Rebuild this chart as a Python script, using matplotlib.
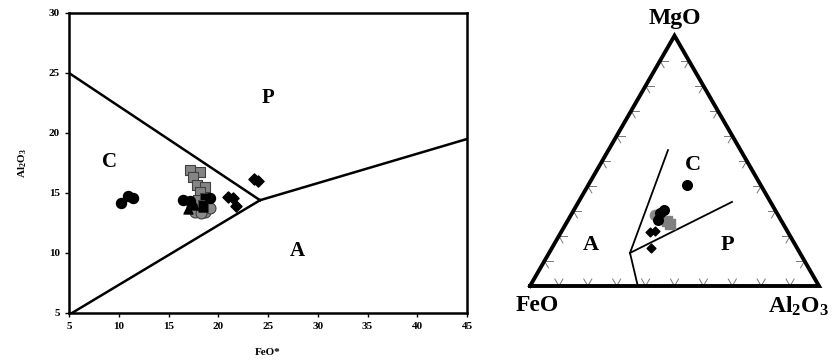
import numpy as np
import matplotlib
matplotlib.use("Agg")
import matplotlib.pyplot as plt

plt.rcParams['font.family'] = ['Liberation Serif', 'DejaVu Serif']
plt.rcParams['font.weight'] = 'bold'
plt.rcParams['mathtext.fontset'] = 'custom'
plt.rcParams['mathtext.rm'] = 'Liberation Serif'
plt.rcParams['mathtext.bf'] = 'Liberation Serif:bold'

# ---- left diagram: FeO* vs Al2O3 ----
bc_x = [10.2, 10.9, 11.4, 16.5, 17.2, 19.2]
bc_y = [14.2, 14.75, 14.6, 14.4, 14.3, 14.6]
gs_x = [17.2, 18.2, 17.5, 17.9, 18.7, 18.2, 18.0]
gs_y = [16.9, 16.75, 16.3, 15.7, 15.5, 15.1, 14.4]
bs_x = [18.7, 18.5]
bs_y = [14.6, 14.0]
gc_x = [17.4, 18.0, 18.7, 19.2, 17.7, 18.3]
gc_y = [13.8, 13.6, 13.4, 13.75, 13.4, 13.3]
bt_x = [17.6, 18.5, 17.0]
bt_y = [14.0, 13.8, 13.7]
dm_x = [21.0, 21.5, 21.8, 23.6, 24.0]
dm_y = [14.7, 14.6, 13.9, 16.2, 16.0]

# field boundaries (FeO*, Al2O3)
bnd_cp = ([5, 24.2], [25, 14.4])
bnd_ca = ([5.3, 24.2], [5, 14.4])
bnd_pa = ([24.2, 45], [14.4, 19.5])
fields_left = {'P': (25, 22.9), 'C': (9.1, 17.6), 'A': (28, 10.2)}

# ---- right diagram: FeO - MgO - Al2O3 ternary (wt fractions) ----
t_bc_fe = [25.5, 40.4, 38.5, 42.5]
t_bc_mg = [40.4, 29.2, 30.4, 26.4]
t_bc_al = [34.1, 30.4, 31.1, 31.1]
t_gc_fe = [42.6]
t_gc_mg = [28.4]
t_gc_al = [29.0]
t_gs_fe = [39.2, 39.5]
t_gs_mg = [24.8, 26.0]
t_gs_al = [36.0, 34.5]
t_dm_fe = [47.7, 45.8, 50.5]
t_dm_mg = [21.6, 22.0, 15.2]
t_dm_al = [30.7, 32.2, 34.3]

t_lines = [  # (FeO, MgO, Al2O3) end points
    ((62.7, 0.0, 37.3), (58.8, 13.2, 28.0)),
    ((58.8, 13.2, 28.0), (25.1, 54.3, 20.6)),
    ((58.8, 13.2, 28.0), (13.3, 33.6, 53.1)),
]
fields_right = {'C': (19.5, 48.3, 32.2), 'A': (70.7, 16.4, 12.9), 'P': (23.6, 16.4, 60.0)}


def tern_xy(fe, mg, al):
    fe, mg, al = np.asarray(fe, float), np.asarray(mg, float), np.asarray(al, float)
    s = fe + mg + al
    return (al + mg / 2) / s, (mg * np.sqrt(3) / 2) / s


fig = plt.figure(figsize=(8.37, 3.63), dpi=100)

ax = fig.add_axes([69 / 837, 50 / 363, 398 / 837, 300 / 363])
for xs, ys in (bnd_cp, bnd_ca, bnd_pa):
    ax.plot(xs, ys, color='black', lw=1.8, zorder=2)
ax.scatter(gs_x, gs_y, marker='s', s=62, c='#858585', edgecolors='#404040', linewidths=0.8, zorder=3)
ax.scatter(bs_x, bs_y, marker='s', s=58, c='black', edgecolors='#404040', linewidths=0.8, zorder=4)
ax.scatter(gc_x, gc_y, marker='o', s=62, c='#8a8a8a', edgecolors='#404040', linewidths=0.8, zorder=3)
ax.scatter(bt_x, bt_y, marker='^', s=42, c='black', zorder=4)
ax.scatter(bc_x, bc_y, marker='o', s=52, c='black', zorder=4)
ax.scatter(dm_x, dm_y, marker='D', s=32, c='black', zorder=4)
for lab, (x, y) in fields_left.items():
    ax.text(x, y, lab, fontsize=15, fontweight='bold', ha='center', va='center')
ax.set_xlim(5, 45)
ax.set_ylim(5, 30)
ax.set_xticks(range(5, 50, 5))
ax.set_yticks(range(5, 35, 5))
ax.tick_params(labelsize=8, length=3, width=1, direction='out')
for sp in ax.spines.values():
    sp.set_linewidth(1.8)
ax.set_xlabel('FeO*', fontsize=8, fontweight='bold', labelpad=12)
ax.set_ylabel(r'$\mathbf{Al_2O_3}$', fontsize=8, labelpad=14)

# ternary
tx = fig.add_axes([500 / 837, 0, 337 / 837, 1])
tx.set_xlim(-30 / 289, 307 / 289)
tx.set_ylim(-77 / 289, 286 / 289)
tx.axis('off')
cx, cy = tern_xy([100, 0, 0, 100], [0, 0, 100, 0], [0, 100, 0, 0])
tx.plot(cx, cy, color='black', lw=2.8, solid_joinstyle='miter', zorder=3)

# tick marks every 10 %
tl = 0.028
a60 = np.radians(60)
for i in range(1, 10):
    f = i / 10
    bx, by = tern_xy(1 - f, 0, f)
    lx, ly = tern_xy(1 - f, f, 0)
    rx, ry = tern_xy(0, f, 1 - f)
    segs = [
        (bx, by, np.cos(a60), np.sin(a60)), (bx, by, -np.cos(a60), np.sin(a60)),
        (lx, ly, 1, 0), (lx, ly, np.cos(a60), -np.sin(a60)),
        (rx, ry, -1, 0), (rx, ry, -np.cos(a60), -np.sin(a60)),
    ]
    for x0, y0, dx, dy in segs:
        tx.plot([x0, x0 + tl * dx], [y0, y0 + tl * dy], color='#777777', lw=0.7, zorder=2)

for p0, p1 in t_lines:
    xs, ys = tern_xy([p0[0], p1[0]], [p0[1], p1[1]], [p0[2], p1[2]])
    tx.plot(xs, ys, color='black', lw=1.3, zorder=2)

x, y = tern_xy(t_gc_fe, t_gc_mg, t_gc_al)
tx.scatter(x, y, marker='o', s=55, c='#8a8a8a', zorder=3)
x, y = tern_xy(t_gs_fe, t_gs_mg, t_gs_al)
tx.scatter(x, y, marker='s', s=55, c='#808080', zorder=3)
x, y = tern_xy(t_bc_fe, t_bc_mg, t_bc_al)
tx.scatter(x, y, marker='o', s=48, c='black', zorder=4)
x, y = tern_xy(t_dm_fe, t_dm_mg, t_dm_al)
tx.scatter(x, y, marker='D', s=20, c='black', zorder=4)

for lab, comp in fields_right.items():
    x, y = tern_xy(*comp)
    tx.text(x, y, lab, fontsize=16, fontweight='bold', ha='center', va='center')

tx.text(0.5, 0.925, 'MgO', fontsize=17, fontweight='bold', ha='center', va='center')
tx.text(0.024, -0.069, 'FeO', fontsize=17, fontweight='bold', ha='center', va='center')
tx.text(0.93, -0.072, r'$\mathbf{Al_2O_3}$', fontsize=17, ha='center', va='center')

fig.savefig('out.png', dpi=100)
